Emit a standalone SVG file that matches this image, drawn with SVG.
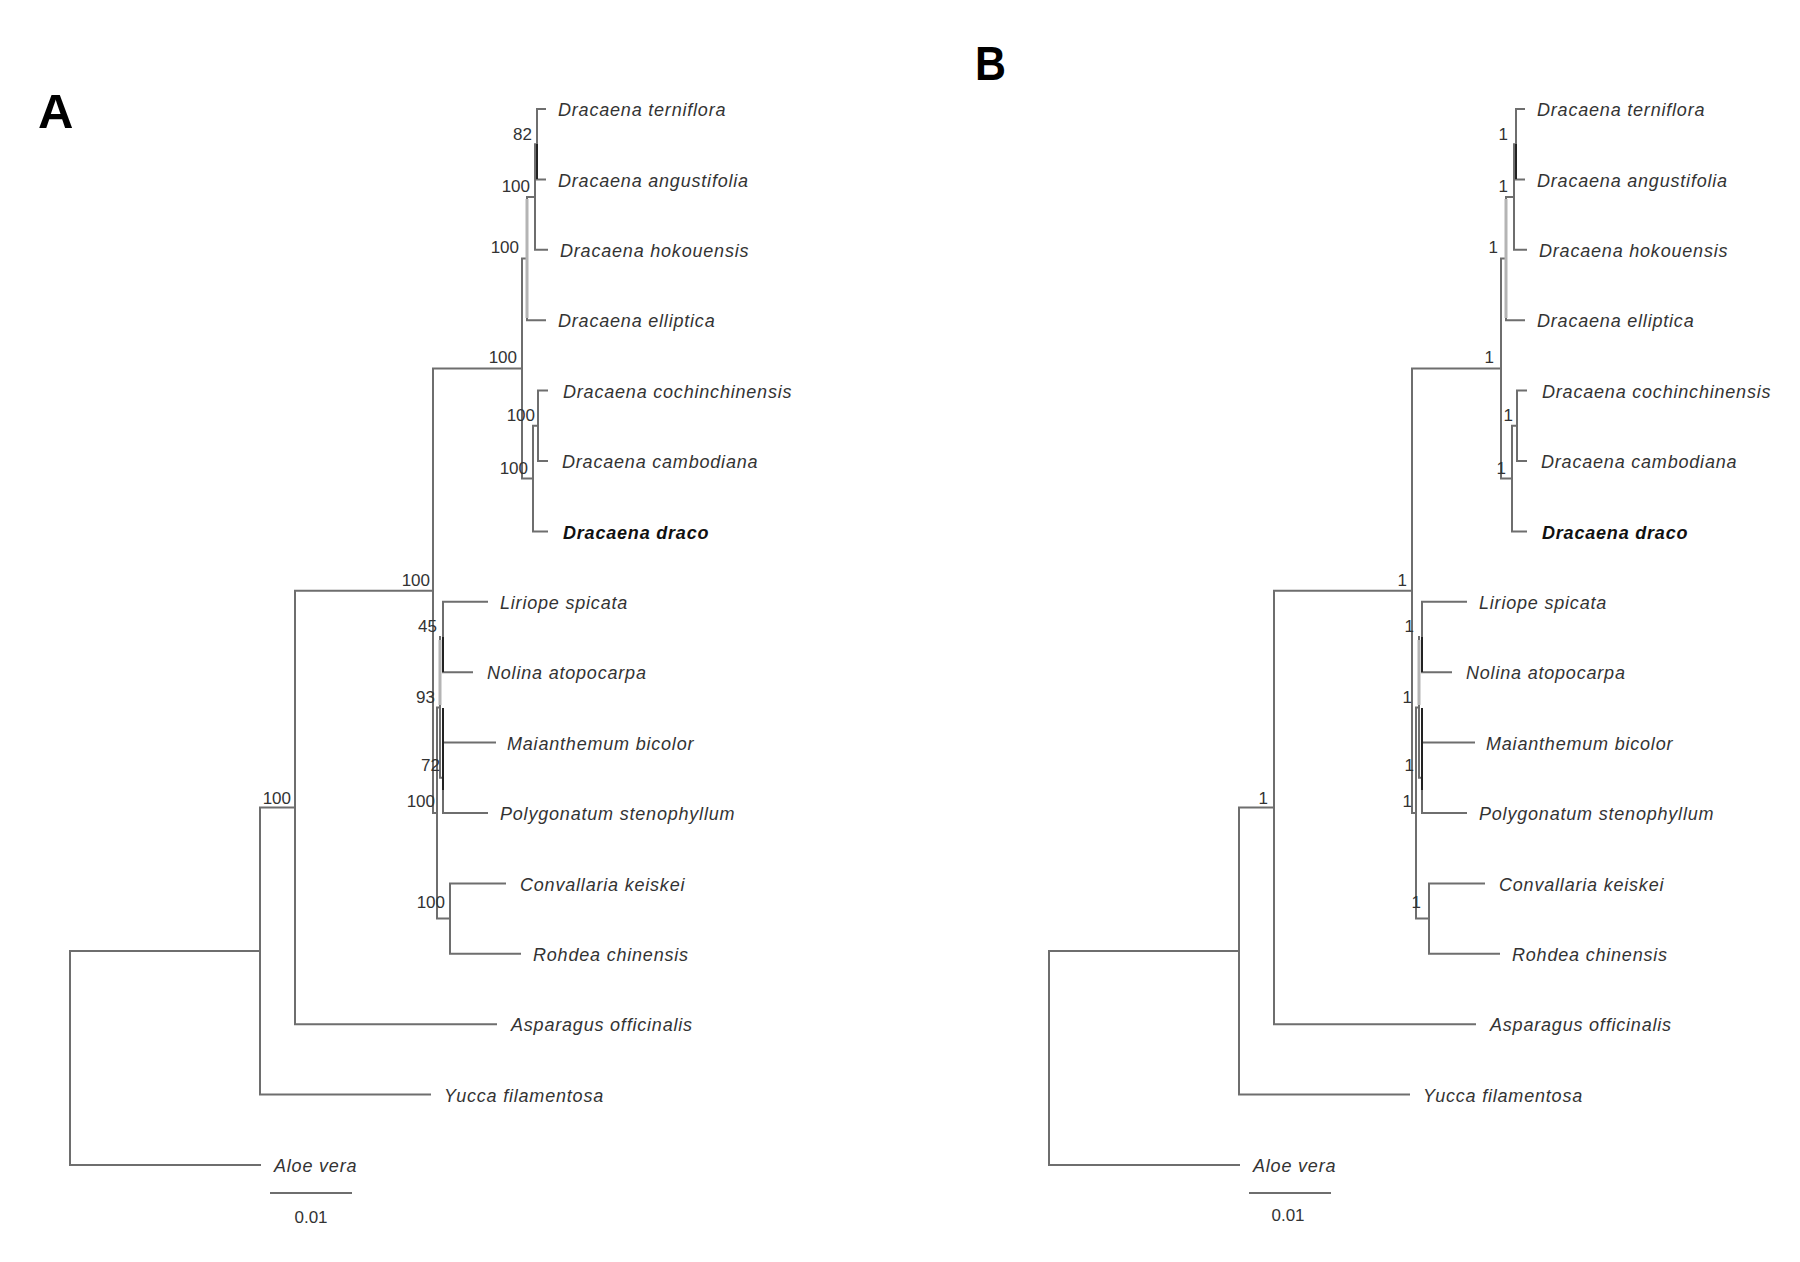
<svg xmlns="http://www.w3.org/2000/svg" width="1800" height="1262" viewBox="0 0 1800 1262">
<style>
.br{fill:none;stroke:#6e6e6e;stroke-width:2;stroke-linecap:square}
.dk{fill:none;stroke:#222;stroke-width:2}
.lt{fill:none;stroke:#b4b4b4;stroke-width:3}
.tip{font-family:"Liberation Sans",Arial,sans-serif;font-style:italic;font-size:18px;letter-spacing:0.8px;fill:#333}
.bold{font-weight:bold;fill:#111}
.sup{font-family:"Liberation Sans",Arial,sans-serif;font-size:17px;fill:#333;text-anchor:end}
.panel{font-family:"Liberation Sans",Arial,sans-serif;font-weight:bold;font-size:49px;fill:#000}
.scale{font-family:"Liberation Sans",Arial,sans-serif;font-size:17px;fill:#333;text-anchor:middle}
</style>
<defs>
<path id="tree" d="M70,951 V1165 H260 M70,951 H260 M260,807.5 V1094.6 H430 M260,807.5 H295 M295,590.8 V1024.2 H496 M295,590.8 H433 M433,368.6 V813 H437 M433,368.6 H522 M522,258.6 V478.6 H533 M522,258.6 H527 M527,197 V320.2 H545 M527,197 H535 M535,144.2 V249.8 H547 M535,144.2 H537 M537,109 H545 M537,109 V179.4 H545 M533,425.8 V531.4 H547 M533,425.8 H538 M538,390.6 H547 M538,390.6 V461 H547 M437,707.4 V918.6 H450 M437,707.4 H440 M440,637 V777.8 H443 M443,601.8 H487 M443,601.8 V672.2 H472 M443,742.6 H495 M443,742.6 V813 H487 M450,883.4 H505 M450,883.4 V953.8 H520"/>
<path id="shade" d="M527,199 V318 M440,640 V705"/>
<path id="dark" d="M537,144 V179 M443,637 V672 M443,708 V790"/>
</defs>
<rect width="1800" height="1262" fill="#fff"/>
<g id="connectors">
<g id="connectors-A">
<use href="#tree" class="br"/>
<use href="#shade" class="lt"/>
<use href="#dark" class="dk"/>
<line x1="271" y1="1193" x2="351" y2="1193" class="br"/>
</g>
<g id="connectors-B" transform="translate(979,0)">
<use href="#tree" class="br"/>
<use href="#shade" class="lt"/>
<use href="#dark" class="dk"/>
<line x1="271" y1="1193" x2="351" y2="1193" class="br"/>
</g>
</g>
<g id="panel-A">
<text id="label-A" class="panel" x="38" y="128">A</text>
<g id="A-tips">
<g id="A-terniflora"><text class="tip" x="558" y="116">Dracaena terniflora</text></g>
<g id="A-angustifolia"><text class="tip" x="558" y="186.5">Dracaena angustifolia</text></g>
<g id="A-hokouensis"><text class="tip" x="560" y="257">Dracaena hokouensis</text></g>
<g id="A-elliptica"><text class="tip" x="558" y="327">Dracaena elliptica</text></g>
<g id="A-cochinchinensis"><text class="tip" x="563" y="397.5">Dracaena cochinchinensis</text></g>
<g id="A-cambodiana"><text class="tip" x="562" y="468">Dracaena cambodiana</text></g>
<g id="A-draco"><text class="tip bold" x="563" y="538.5">Dracaena draco</text></g>
<g id="A-liriope"><text class="tip" x="500" y="609">Liriope spicata</text></g>
<g id="A-nolina"><text class="tip" x="487" y="679">Nolina atopocarpa</text></g>
<g id="A-maianthemum"><text class="tip" x="507" y="749.5">Maianthemum bicolor</text></g>
<g id="A-polygonatum"><text class="tip" x="500" y="820">Polygonatum stenophyllum</text></g>
<g id="A-convallaria"><text class="tip" x="520" y="890.5">Convallaria keiskei</text></g>
<g id="A-rohdea"><text class="tip" x="533" y="961">Rohdea chinensis</text></g>
<g id="A-asparagus"><text class="tip" x="511" y="1031">Asparagus officinalis</text></g>
<g id="A-yucca"><text class="tip" x="444" y="1101.5">Yucca filamentosa</text></g>
<g id="A-aloe"><text class="tip" x="274" y="1172">Aloe vera</text></g>
</g>
<g id="A-support">
<text class="sup" x="532" y="140">82</text>
<text class="sup" x="530" y="192">100</text>
<text class="sup" x="519" y="253">100</text>
<text class="sup" x="517" y="363">100</text>
<text class="sup" x="535" y="421">100</text>
<text class="sup" x="528" y="474">100</text>
<text class="sup" x="430" y="586">100</text>
<text class="sup" x="437" y="632">45</text>
<text class="sup" x="435" y="703">93</text>
<text class="sup" x="440" y="771">72</text>
<text class="sup" x="435" y="807">100</text>
<text class="sup" x="445" y="908">100</text>
<text class="sup" x="291" y="804">100</text>
</g>
<g id="A-scale"><text class="scale" x="311" y="1223">0.01</text></g>
</g>
<g id="panel-B">
<text id="label-B" class="panel" x="975" y="80" textLength="31" lengthAdjust="spacingAndGlyphs">B</text>
<g id="B-tips">
<g id="B-terniflora"><text class="tip" x="1537" y="116">Dracaena terniflora</text></g>
<g id="B-angustifolia"><text class="tip" x="1537" y="186.5">Dracaena angustifolia</text></g>
<g id="B-hokouensis"><text class="tip" x="1539" y="257">Dracaena hokouensis</text></g>
<g id="B-elliptica"><text class="tip" x="1537" y="327">Dracaena elliptica</text></g>
<g id="B-cochinchinensis"><text class="tip" x="1542" y="397.5">Dracaena cochinchinensis</text></g>
<g id="B-cambodiana"><text class="tip" x="1541" y="468">Dracaena cambodiana</text></g>
<g id="B-draco"><text class="tip bold" x="1542" y="538.5">Dracaena draco</text></g>
<g id="B-liriope"><text class="tip" x="1479" y="609">Liriope spicata</text></g>
<g id="B-nolina"><text class="tip" x="1466" y="679">Nolina atopocarpa</text></g>
<g id="B-maianthemum"><text class="tip" x="1486" y="749.5">Maianthemum bicolor</text></g>
<g id="B-polygonatum"><text class="tip" x="1479" y="820">Polygonatum stenophyllum</text></g>
<g id="B-convallaria"><text class="tip" x="1499" y="890.5">Convallaria keiskei</text></g>
<g id="B-rohdea"><text class="tip" x="1512" y="961">Rohdea chinensis</text></g>
<g id="B-asparagus"><text class="tip" x="1490" y="1031">Asparagus officinalis</text></g>
<g id="B-yucca"><text class="tip" x="1423" y="1101.5">Yucca filamentosa</text></g>
<g id="B-aloe"><text class="tip" x="1253" y="1172">Aloe vera</text></g>
</g>
<g id="B-support">
<text class="sup" x="1508" y="140">1</text>
<text class="sup" x="1508" y="192">1</text>
<text class="sup" x="1498" y="253">1</text>
<text class="sup" x="1494" y="363">1</text>
<text class="sup" x="1513" y="421">1</text>
<text class="sup" x="1506" y="474">1</text>
<text class="sup" x="1407" y="586">1</text>
<text class="sup" x="1414" y="632">1</text>
<text class="sup" x="1412" y="703">1</text>
<text class="sup" x="1414" y="771">1</text>
<text class="sup" x="1412" y="807">1</text>
<text class="sup" x="1421" y="908">1</text>
<text class="sup" x="1268" y="804">1</text>
</g>
<g id="B-scale"><text class="scale" x="1288" y="1221">0.01</text></g>
</g>
</svg>
